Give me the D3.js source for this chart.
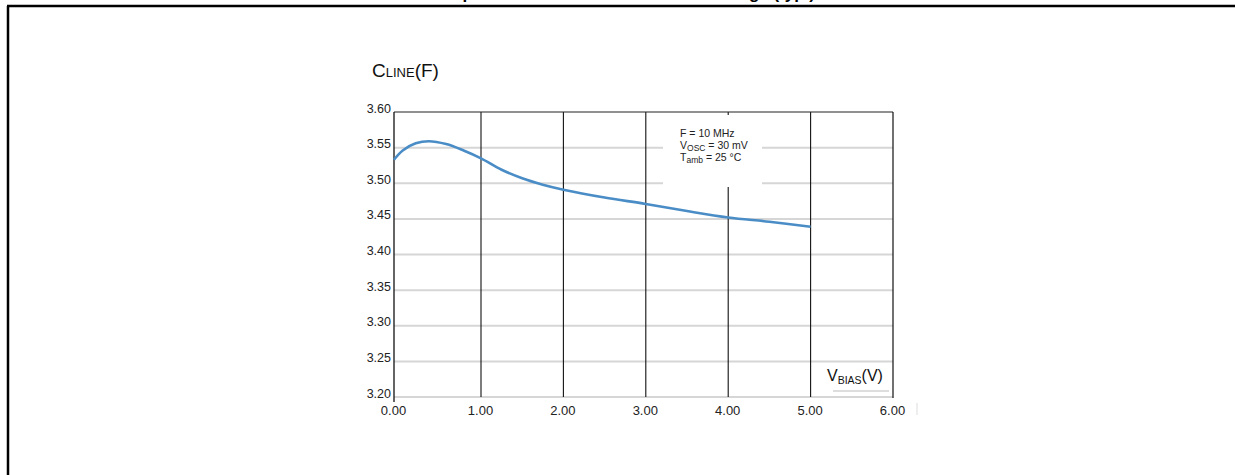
<!DOCTYPE html>
<html lang="en">
<head>
<meta charset="UTF-8">
<title>Line capacitance</title>
<script src="https://cdnjs.cloudflare.com/ajax/libs/d3/7.8.5/d3.min.js"></script>
<style>
  body { margin: 0; background: #fff; }
  svg { display: block; }
  text { font-family: Arial, "Liberation Sans", sans-serif; }
</style>
</head>
<body>
<div id="chart"></div>
<script>
// values
var vbias = [0, 0.1, 0.25, 0.4, 0.6, 0.8, 1.0, 1.25, 1.5, 1.75, 2.0, 2.5, 3.0, 3.5, 4.0, 4.5, 5.0];
var cline = [3.533, 3.546, 3.556, 3.559, 3.555, 3.546, 3.535, 3.519, 3.507, 3.498, 3.491, 3.480, 3.471, 3.461, 3.452, 3.446, 3.439];
var xTicks = [0, 1, 2, 3, 4, 5, 6];
var yTicks = [3.20, 3.25, 3.30, 3.35, 3.40, 3.45, 3.50, 3.55, 3.60];
var legendLines = [["F = 10 MHz", ""], ["V", "OSC", " = 30 mV"], ["T", "amb", " = 25 °C"]];

var W = 1235, H = 475;
var svg = d3.select("#chart").append("svg").attr("width", W).attr("height", H);

// frame of the figure (title is cut off at the top, only descenders show)
svg.append("text")
  .attr("x", 404).attr("y", -1.5)
  .attr("font-size", 17).attr("font-weight", "bold")
  .text("Line capacitance versus reverse bias voltage (typ.)");
svg.append("line").attr("x1", 7).attr("x2", W).attr("y1", 6).attr("y2", 6)
  .attr("stroke", "#000").attr("stroke-width", 2.5);
svg.append("line").attr("x1", 8).attr("x2", 8).attr("y1", 6).attr("y2", H)
  .attr("stroke", "#000").attr("stroke-width", 2.5);

// scanned plot is a bit wider in its first interval
var x = d3.scaleLinear().domain([0, 1, 6]).range([394, 481, 893]);
var y = d3.scaleLinear().domain([3.20, 3.60]).range([397, 112]);
var fmt = d3.format(".2f");

// horizontal grid
svg.append("g").selectAll("line").data(yTicks.slice(0, -1)).join("line")
  .attr("x1", x(0)).attr("x2", x(6))
  .attr("y1", d => y(d)).attr("y2", d => y(d))
  .attr("stroke", "#d6d6d6").attr("stroke-width", 2);

// vertical grid
svg.append("g").selectAll("line").data(xTicks.slice(1, -1)).join("line")
  .attr("x1", d => x(d)).attr("x2", d => x(d))
  .attr("y1", y(3.60)).attr("y2", y(3.20))
  .attr("stroke", "#111").attr("stroke-width", 1.1);

// border: top, right, left
svg.append("line").attr("x1", x(0)).attr("x2", x(6)).attr("y1", y(3.60)).attr("y2", y(3.60))
  .attr("stroke", "#222").attr("stroke-width", 1.2);
svg.append("line").attr("x1", x(6)).attr("x2", x(6)).attr("y1", y(3.60)).attr("y2", y(3.20) + 1)
  .attr("stroke", "#111").attr("stroke-width", 1.2);
svg.append("line").attr("x1", x(0)).attr("x2", x(0)).attr("y1", y(3.60)).attr("y2", y(3.20) + 5)
  .attr("stroke", "#111").attr("stroke-width", 1.3);
svg.append("line").attr("x1", 917).attr("x2", 917).attr("y1", 403).attr("y2", 415)
  .attr("stroke", "#ddd").attr("stroke-width", 1);

// legend box hides the grid behind it
svg.append("rect").attr("x", 663).attr("y", 115).attr("width", 99).attr("height", 72)
  .attr("fill", "#fff");
var leg = svg.append("g").attr("font-size", 10.5).attr("fill", "#222");
legendLines.forEach(function (l, i) {
  var t = leg.append("text").attr("x", 680).attr("y", 137 + i * 12);
  t.append("tspan").text(l[0]);
  if (l[1]) {
    t.append("tspan").attr("font-size", 8.5).attr("dy", 2).text(l[1]);
    t.append("tspan").attr("dy", -2).text(l[2]);
  }
});

// y axis labels sit a little above their grid line
var yAxis = svg.append("g").attr("transform", "translate(" + x(0) + ",-4)")
  .call(d3.axisLeft(y).tickValues(yTicks).tickSize(0).tickPadding(3).tickFormat(fmt));
yAxis.select(".domain").remove();
yAxis.selectAll("text").attr("font-size", 12.5).attr("fill", "#222")
  .attr("font-family", "Arial, 'Liberation Sans', sans-serif");

// x axis labels
var xAxis = svg.append("g").attr("transform", "translate(-1," + (y(3.20) + 6) + ")")
  .call(d3.axisBottom(x).tickValues(xTicks).tickSize(0).tickPadding(3).tickFormat(fmt));
xAxis.select(".domain").remove();
xAxis.selectAll("text").attr("font-size", 13).attr("fill", "#222")
  .attr("font-family", "Arial, 'Liberation Sans', sans-serif");

// curve
var line = d3.line().x(d => x(d[0])).y(d => y(d[1])).curve(d3.curveCatmullRom.alpha(0.5));
svg.append("path").datum(d3.zip(vbias, cline))
  .attr("d", line).attr("fill", "none")
  .attr("stroke", "#4a8dc6").attr("stroke-width", 2.6);

// axis titles
var yt = svg.append("text").attr("x", 372).attr("y", 77).attr("font-size", 19).attr("fill", "#111");
yt.append("tspan").text("C");
yt.append("tspan").attr("font-size", 13).text("LINE");
yt.append("tspan").text("(F)");

var xt = svg.append("text").attr("x", 827).attr("y", 381).attr("font-size", 16).attr("fill", "#111");
xt.append("tspan").text("V");
xt.append("tspan").attr("font-size", 10.5).attr("dy", 3).text("BIAS");
xt.append("tspan").attr("dy", -3).text("(V)");
svg.append("line").attr("x1", 833).attr("x2", 889).attr("y1", 391).attr("y2", 391)
  .attr("stroke", "#bbb").attr("stroke-width", 1);
</script>
</body>
</html>
